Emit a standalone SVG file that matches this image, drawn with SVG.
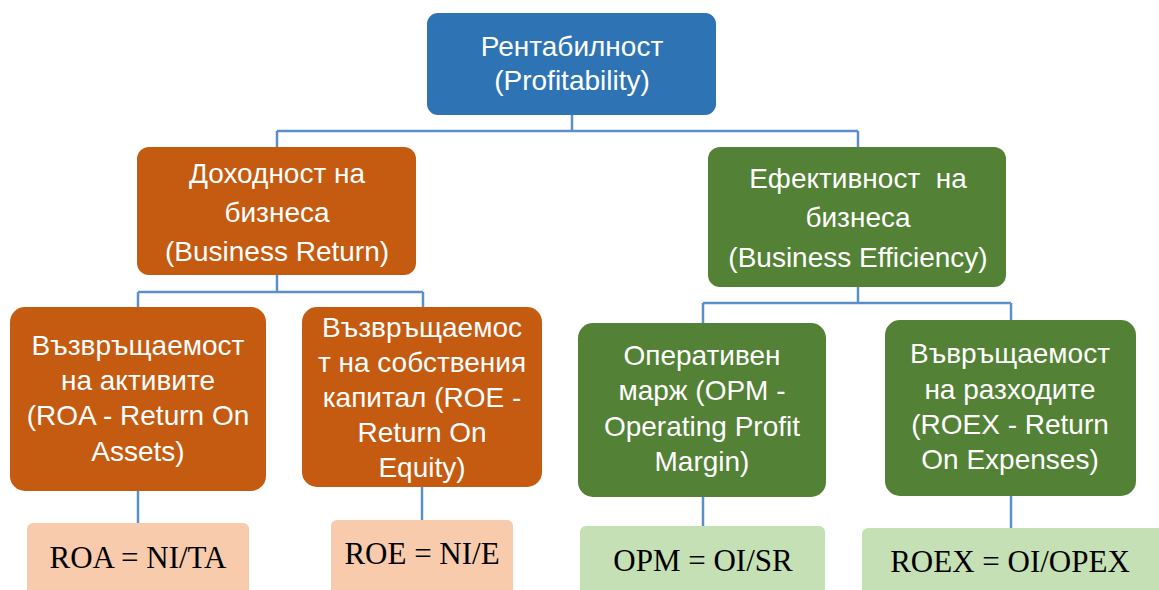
<svg xmlns="http://www.w3.org/2000/svg" width="1159" height="590" viewBox="0 0 1159 590">
<style>
.conn{stroke:#5B8FC7;stroke-width:2.5;fill:none}
.blue{fill:#2E74B5}
.orange{fill:#C55A11}
.green{fill:#538135}
.lor{fill:#F8CBAD}
.lgr{fill:#C5E0B4}
.t{font-family:"Liberation Sans",Arial,sans-serif;font-size:28px;fill:#FFFFFF;text-anchor:middle}
.f{font-family:"Liberation Serif","Times New Roman",serif;font-size:31px;fill:#000000;text-anchor:middle}
</style>
<rect width="1159" height="590" fill="#FFFFFF"/>
<g id="connectors">
<path class="conn" d="M572,115 V131 M277,131 H858 M277,131 V147 M858,131 V147"/>
<path class="conn" d="M277,275 V292 M138,292 H423 M138,292 V307 M423,292 V307"/>
<path class="conn" d="M858,287 V303 M703,303 H1011 M703,303 V323 M1011,303 V320"/>
<path class="conn" d="M138,491 V523 M422,487 V520 M703,497 V526 M1011,496 V528"/>
</g>
<g id="root">
<rect class="blue" x="427" y="13" width="289" height="102" rx="11"/>
<text class="t" x="572" y="56">Рентабилност</text>
<text class="t" x="572" y="90">(Profitability)</text>
</g>
<g id="business-return">
<rect class="orange" x="137" y="147" width="279" height="128" rx="12"/>
<text class="t" x="277" y="183">Доходност на</text>
<text class="t" x="277" y="222">бизнеса</text>
<text class="t" x="277" y="261">(Business Return)</text>
</g>
<g id="business-efficiency">
<rect class="green" x="708" y="147" width="298" height="140" rx="12"/>
<text class="t" x="858" y="188" xml:space="preserve">Ефективност  на</text>
<text class="t" x="858" y="227">бизнеса</text>
<text class="t" x="858" y="267">(Business Efficiency)</text>
</g>
<g id="roa">
<rect class="orange" x="10" y="307" width="256" height="184" rx="15"/>
<text class="t" x="138" y="355">Възвръщаемост</text>
<text class="t" x="138" y="390">на активите</text>
<text class="t" x="138" y="425">(ROA - Return On</text>
<text class="t" x="138" y="461">Assets)</text>
</g>
<g id="roe">
<rect class="orange" x="302" y="307" width="240" height="180" rx="15"/>
<text class="t" x="422" y="337">Възвръщаемос</text>
<text class="t" x="422" y="372">т на собствения</text>
<text class="t" x="422" y="407">капитал (ROE -</text>
<text class="t" x="422" y="442">Return On</text>
<text class="t" x="422" y="477">Equity)</text>
</g>
<g id="opm">
<rect class="green" x="578" y="323" width="248" height="174" rx="15"/>
<text class="t" x="702" y="365">Оперативен</text>
<text class="t" x="702" y="400">марж (OPM -</text>
<text class="t" x="702" y="436">Operating Profit</text>
<text class="t" x="702" y="471">Margin)</text>
</g>
<g id="roex">
<rect class="green" x="885" y="320" width="251" height="176" rx="15"/>
<text class="t" x="1010" y="363">Въвръщаемост</text>
<text class="t" x="1010" y="399">на разходите</text>
<text class="t" x="1010" y="434">(ROEX - Return</text>
<text class="t" x="1010" y="469">On Expenses)</text>
</g>
<g id="roa-formula">
<rect class="lor" x="27" y="523" width="222" height="80" rx="6"/>
<text class="f" x="138" y="568">ROA = NI/TA</text>
</g>
<g id="roe-formula">
<rect class="lor" x="331" y="520" width="182" height="80" rx="6"/>
<text class="f" x="422" y="564">ROE = NI/E</text>
</g>
<g id="opm-formula">
<rect class="lgr" x="580" y="526" width="245" height="80" rx="6"/>
<text class="f" x="703" y="571">OPM = OI/SR</text>
</g>
<g id="roex-formula">
<rect class="lgr" x="862" y="528" width="310" height="80" rx="6"/>
<text class="f" x="1010" y="572">ROEX = OI/OPEX</text>
</g>
</svg>
